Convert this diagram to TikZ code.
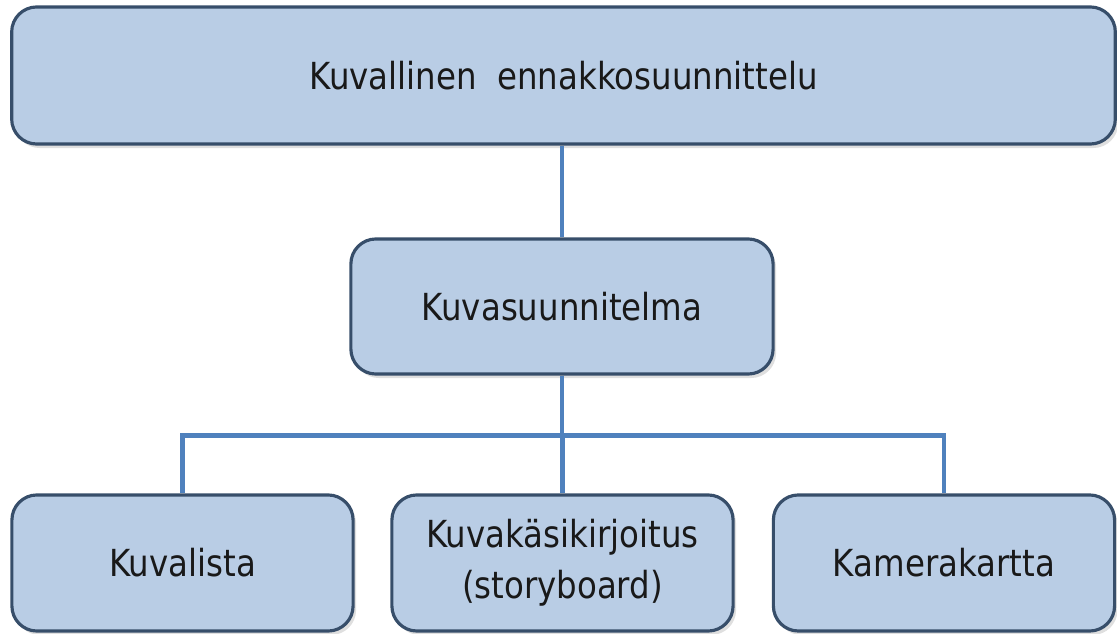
\documentclass[tikz,border=0pt]{standalone}
\usepackage{fontspec}
\setmainfont[FakeStretch=0.87]{DejaVu Sans}
\usetikzlibrary{positioning,shadows}

\definecolor{boxfill}{RGB}{185,205,229}
\definecolor{boxline}{RGB}{55,78,106}
\definecolor{linkblue}{RGB}{79,129,189}

\begin{document}
\begin{tikzpicture}[x=0.01cm,y=-0.01cm,
    box/.style={draw=boxline,line width=0.9pt,fill=boxfill,rounded corners=0.25cm,
      drop shadow={opacity=0.25,shadow xshift=0.03cm,shadow yshift=-0.04cm},
      align=center,text=black!90,font=\fontsize{10.6pt}{14.5pt}\selectfont},
    link/.style={draw=linkblue,line width=1.4pt}]

  %% fix the page to the reference size
  \useasboundingbox (0,0) rectangle (1117,634);

  %% top and middle level
  \node[box,minimum width=11.03cm,minimum height=1.37cm] (plan) at (563.5,75.5) {Kuvallinen\ \ ennakkosuunnittelu};
  \node[box,minimum width=4.22cm,minimum height=1.35cm] (kuva) at (562,306.5) {Kuvasuunnitelma};

  %% bottom level
  \begin{scope}[every node/.append style={box,minimum width=3.41cm,minimum height=1.36cm}]
    \node (lista) at (182.5,563) {Kuvalista};
    \node (story) at (562.5,563) {Kuvakäsikirjoitus\\(storyboard)};
    \node (kartta) at (944,563) {Kamerakartta};
  \end{scope}

  %% connectors
  \draw[link] (kuva.north |- plan.south) -- (kuva.north);
  \foreach \n in {lista,story,kartta}{
    \draw[link] (kuva.south) -- ++(0,-0.6cm) -| (\n.north);
  }

\end{tikzpicture}
\end{document}
